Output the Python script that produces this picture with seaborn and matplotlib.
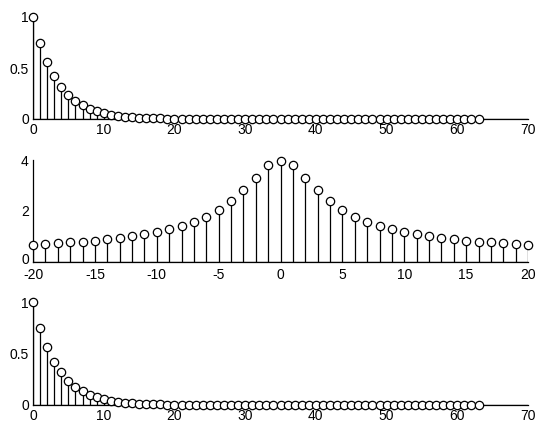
import matplotlib
matplotlib.use("Agg")
import matplotlib.pyplot as plt
import matplotlib.transforms as mtransforms
import seaborn as sns
import pandas as pd

# x[n] = 0.75^n, n = 0..63
n_time = list(range(64))
x_time = [1.000, 0.750, 0.563, 0.422, 0.316, 0.237, 0.178, 0.133, 0.100, 0.075,
          0.056, 0.042, 0.032, 0.024, 0.018, 0.013, 0.010, 0.008, 0.006, 0.004,
          0.003, 0.002, 0.002, 0.001, 0.001, 0.001, 0.001, 0.000, 0.000, 0.000,
          0.000, 0.000, 0.000, 0.000, 0.000, 0.000, 0.000, 0.000, 0.000, 0.000,
          0.000, 0.000, 0.000, 0.000, 0.000, 0.000, 0.000, 0.000, 0.000, 0.000,
          0.000, 0.000, 0.000, 0.000, 0.000, 0.000, 0.000, 0.000, 0.000, 0.000,
          0.000, 0.000, 0.000, 0.000]

# |X(k)| for k = -20..20
k_freq = list(range(-20, 21))
mag_freq = [0.68, 0.71, 0.73, 0.77, 0.80, 0.84, 0.89, 0.94, 1.01, 1.08,
            1.17, 1.28, 1.41, 1.58, 1.78, 2.04, 2.38, 2.81, 3.31, 3.79,
            3.95,
            3.79, 3.31, 2.81, 2.38, 2.04, 1.78, 1.58, 1.41, 1.28, 1.17,
            1.08, 1.01, 0.94, 0.89, 0.84, 0.80, 0.77, 0.73, 0.71, 0.68]

# reconstructed sequence, n = 0..63
n_rec = list(range(64))
x_rec = list(x_time)

sns.set_style("white")
plt.rcParams["font.family"] = ["Liberation Sans", "DejaVu Sans"]
plt.rcParams["axes.unicode_minus"] = False

W, H = 536, 426
fig = plt.figure(figsize=(W / 100, H / 100), dpi=100)


def stem_axes(rect, xs, ys, xlim, ylim, xticks, yticks, yticklabels, xpad=3):
    ax = fig.add_axes(rect)
    df = pd.DataFrame({"n": xs, "v": ys})
    ax.vlines(df["n"], 0, df["v"], colors="black", linewidth=0.9, zorder=2)
    ax.axhline(0, color="black", linewidth=0.9, zorder=2)
    sns.scatterplot(data=df, x="n", y="v", ax=ax, marker="o", s=36,
                    facecolors="white", edgecolor="black", linewidth=0.9,
                    zorder=3, clip_on=False)
    ax.set_xlim(*xlim)
    ax.set_ylim(*ylim)
    ax.set_xticks(xticks)
    ax.set_yticks(yticks)
    ax.set_yticklabels(yticklabels)
    ax.set_xlabel("")
    ax.set_ylabel("")
    for s in ("top", "right"):
        ax.spines[s].set_visible(False)
    for s in ("left", "bottom"):
        ax.spines[s].set_linewidth(0.9)
        ax.spines[s].set_color("black")
    ax.tick_params(direction="in", length=3, width=0.8, labelsize=10,
                   colors="black")
    ax.tick_params(axis="x", pad=xpad)
    ax.tick_params(axis="y", pad=3)
    return ax


left = 33 / W
width = 495 / W
stem_axes([left, (H - 119) / H, width, 102 / H], n_time, x_time,
          (0, 70), (0, 1), range(0, 71, 10), [0, 0.5, 1], ["0", "0.5", "1"])
ax_mid = stem_axes([left, (H - 262) / H, width, 102 / H], k_freq, mag_freq,
                   (-20, 20), (0, 4), range(-20, 21, 5), [0, 2, 4],
                   ["0", "2", "4"], xpad=4.5)
# nudge the zero label up slightly so it clears the "-20" below it
zero_lbl = ax_mid.get_yticklabels()[0]
zero_lbl.set_transform(zero_lbl.get_transform() +
                       mtransforms.ScaledTranslation(0, 2.5 / 72,
                                                     fig.dpi_scale_trans))
stem_axes([left, (H - 405) / H, width, 103 / H], n_rec, x_rec,
          (0, 70), (0, 1), range(0, 71, 10), [0, 0.5, 1], ["0", "0.5", "1"])

fig.savefig("out.png", dpi=100, facecolor="white")
